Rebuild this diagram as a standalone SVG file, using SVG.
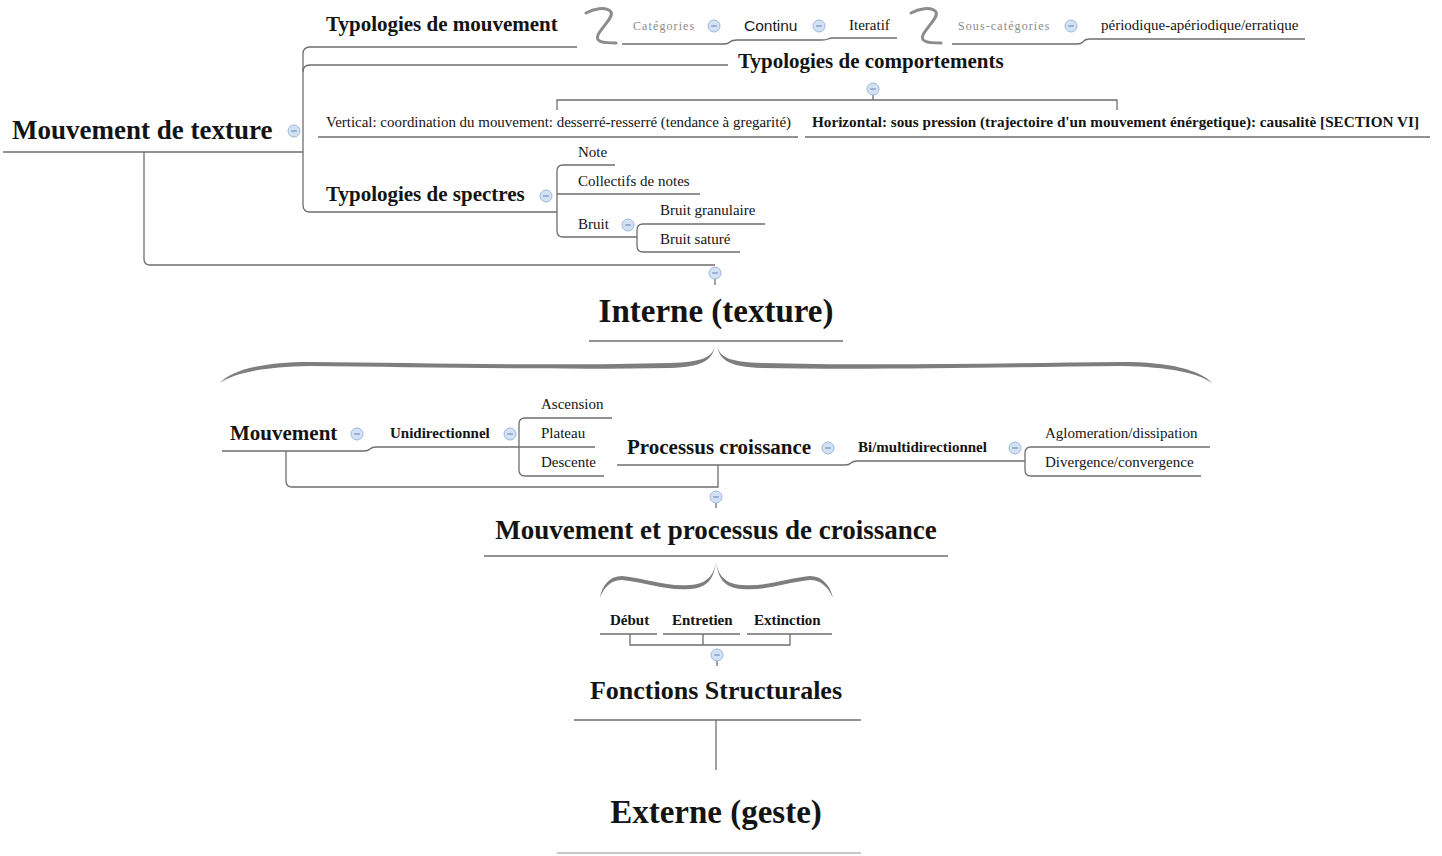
<svg xmlns="http://www.w3.org/2000/svg" width="1442" height="856" viewBox="0 0 1442 856">
<style>
.t{font-family:"Liberation Serif","Times New Roman",serif;fill:#141414}
.b{font-weight:bold}
.s{font-size:15px}
.m{font-size:21px}
.g{font-size:12px;fill:#8a8a8a;letter-spacing:1.1px}
.sans{font-family:"Liberation Sans",Arial,sans-serif;font-size:15.5px;fill:#1a1a1a}
.ln{stroke:#6e6e6e;stroke-width:1.3;fill:none}
.sq{stroke:#8c8c8c;stroke-width:3;fill:none;stroke-linecap:round}
.brace{fill:#7e7e7e}
</style>
<defs>
<g id="btn"><circle r="6" fill="#d3e1f4" stroke="#9db8dc" stroke-width="1"/><line x1="-2.8" y1="0" x2="2.8" y2="0" stroke="#5f7fae" stroke-width="1"/></g>
</defs>
<rect width="1442" height="856" fill="#ffffff"/>

<g id="connectors">
<!-- Mouvement de texture -->
<path class="ln" d="M3,152 H303"/>
<path class="ln" d="M310,47 Q303,47 303,54 V205 Q303,212 310,212"/>
<path class="ln" d="M303,72 Q303,65 310,65 H728"/>
<path class="ln" d="M144,152 V259 Q144,265 150,265 H715"/>
<path class="ln" d="M715,279 V285"/>
<!-- Typologies de mouvement chain -->
<path class="ln" d="M310,47 H577"/>
<path class="ln" d="M622,44 H724 Q728,44 730,42 Q732,40 737,40 H822 Q826,40 828,39 Q830,38 834,38 H897"/>
<path class="ln" d="M952,44 H1077 Q1081,44 1083,42 Q1085,39 1090,39 H1305"/>
<!-- comportements -->
<path class="ln" d="M873,95 V100"/>
<path class="ln" d="M557,110 V100 H1117 V110"/>
<path class="ln" d="M318,137 H798"/>
<path class="ln" d="M805,137 H1430"/>
<!-- spectres -->
<path class="ln" d="M310,212 H557"/>
<path class="ln" d="M615,165 H563 Q557,165 557,171 V231 Q557,237 563,237 H637"/>
<path class="ln" d="M557,194 H700"/>
<path class="ln" d="M765,224 H643 Q637,224 637,230 V246 Q637,252 643,252 H740"/>
<!-- Interne -->
<path class="ln" d="M589,341 H843"/>
<!-- Mouvement / Processus -->
<path class="ln" d="M222,451 H364 Q368,451 370,449 Q372,447 376,447 H595"/>
<path class="ln" d="M612,418 H525 Q519,418 519,424 V470 Q519,476 525,476 H604"/>
<path class="ln" d="M286,451 V481 Q286,487 292,487 H718 V465"/>
<path class="ln" d="M617,465 H845 Q849,465 851,463 Q853,461 857,461 H1025"/>
<path class="ln" d="M1210,447 H1031 Q1025,447 1025,453 V470 Q1025,476 1031,476 H1201"/>
<path class="ln" d="M716,503 V508"/>
<path class="ln" d="M484,556 H948"/>
<!-- Fonctions -->
<path class="ln" d="M600,634 H657 M663,634 H740 M747,634 H832"/>
<path class="ln" d="M630,634 V645 H790 V634 M703,634 V645"/>
<path class="ln" d="M717,661 V666"/>
<path class="ln" d="M574,720 H861"/>
<path class="ln" d="M716,720 V770"/>
<path class="ln" d="M557,853 H861" stroke-opacity="0.5"/>
</g>

<g id="squiggles">
<path class="sq" d="M586,13 C593,9 606,6 611,12 C614,17 601,28 598,35 C595,42 603,43 616,43"/>
<path class="sq" d="M911,13 C918,9 931,6 936,12 C939,17 926,28 923,35 C920,42 928,43 941,43"/>
</g>

<g id="braces">
<path class="brace" d="M715,345 C713,357 703,362 670,363 C560,366 420,363 310,362 C262,362 232,370 220,383 C234,373 262,367 310,366 C420,367 560,370 670,368 C703,367 713,360 715,345 Z"/>
<path class="brace" d="M717,345 C719,357 729,362 762,363 C872,366 1012,363 1122,362 C1170,362 1200,370 1212,383 C1198,373 1170,367 1122,366 C1012,367 872,370 762,368 C729,367 719,360 717,345 Z"/>
<path class="brace" d="M716,562 C714,574 708,584 690,585 C665,587 645,578 622,576 C610,576 602,585 600,598 C604,587 611,580 622,580 C645,582 665,591 690,589 C708,588 714,578 716,562 Z"/>
<path class="brace" d="M716,562 C718,574 724,584 742,585 C767,587 787,578 810,576 C822,576 830,585 833,598 C828,587 821,580 810,580 C787,582 767,591 742,589 C724,588 718,578 716,562 Z"/>
</g>

<g id="n-texture"><text class="t b" x="12" y="139" font-size="27">Mouvement de texture</text><use href="#btn" x="294" y="131"/></g>
<g id="n-typ-mouvement"><text class="t b m" x="326" y="31">Typologies de mouvement</text></g>
<g id="n-categories"><text class="t g" x="633" y="30">Catégories</text><use href="#btn" x="714" y="26"/></g>
<g id="n-continu"><text class="sans" x="744" y="31">Continu</text><use href="#btn" x="819" y="26"/></g>
<g id="n-iteratif"><text class="t s" x="849" y="30">Iteratif</text></g>
<g id="n-souscategories"><text class="t g" x="958" y="30">Sous-catégories</text><use href="#btn" x="1071" y="26"/></g>
<g id="n-periodique"><text class="t s" x="1101" y="30">périodique-apériodique/erratique</text></g>
<g id="n-typ-comportements"><text class="t b m" x="738" y="68">Typologies de comportements</text><use href="#btn" x="873" y="89"/></g>
<g id="n-vertical"><text class="t s" x="326" y="127" textLength="465" lengthAdjust="spacingAndGlyphs">Vertical: coordination du mouvement: desserré-resserré (tendance à gregarité)</text></g>
<g id="n-horizontal"><text class="t b s" x="812" y="127" textLength="607" lengthAdjust="spacingAndGlyphs">Horizontal: sous pression (trajectoire d'un mouvement énérgetique): causalitè [SECTION VI]</text></g>
<g id="n-typ-spectres"><text class="t b m" x="326" y="201">Typologies de spectres</text><use href="#btn" x="546" y="196"/></g>
<g id="n-note"><text class="t s" x="578" y="157">Note</text></g>
<g id="n-collectifs"><text class="t s" x="578" y="186">Collectifs de notes</text></g>
<g id="n-bruit"><text class="t s" x="578" y="229">Bruit</text><use href="#btn" x="628" y="225"/></g>
<g id="n-bruit-granulaire"><text class="t s" x="660" y="215">Bruit granulaire</text></g>
<g id="n-bruit-sature"><text class="t s" x="660" y="244">Bruit saturé</text></g>
<g id="n-btn-texture-child"><use href="#btn" x="715" y="273"/></g>
<g id="n-interne"><text class="t b" x="716" y="322" font-size="33" text-anchor="middle">Interne (texture)</text></g>
<g id="n-mouvement"><text class="t b m" x="230" y="440">Mouvement</text><use href="#btn" x="357" y="434"/></g>
<g id="n-unidirectionnel"><text class="t b s" x="390" y="438">Unidirectionnel</text><use href="#btn" x="510" y="434"/></g>
<g id="n-ascension"><text class="t s" x="541" y="409">Ascension</text></g>
<g id="n-plateau"><text class="t s" x="541" y="438">Plateau</text></g>
<g id="n-descente"><text class="t s" x="541" y="467">Descente</text></g>
<g id="n-processus"><text class="t b m" x="627" y="454">Processus croissance</text><use href="#btn" x="828" y="448"/></g>
<g id="n-bimulti"><text class="t b s" x="858" y="452">Bi/multidirectionnel</text><use href="#btn" x="1015" y="448"/></g>
<g id="n-aglomeration"><text class="t s" x="1045" y="438">Aglomeration/dissipation</text></g>
<g id="n-divergence"><text class="t s" x="1045" y="467">Divergence/convergence</text></g>
<g id="n-mpc"><use href="#btn" x="716" y="497"/><text class="t b" x="716" y="539" font-size="27" text-anchor="middle">Mouvement et processus de croissance</text></g>
<g id="n-debut"><text class="t b s" x="610" y="625">Début</text></g>
<g id="n-entretien"><text class="t b s" x="672" y="625">Entretien</text></g>
<g id="n-extinction"><text class="t b s" x="754" y="625">Extinction</text></g>
<g id="n-fonctions"><use href="#btn" x="717" y="655"/><text class="t b" x="716" y="699" font-size="26" text-anchor="middle">Fonctions Structurales</text></g>
<g id="n-externe"><text class="t b" x="716" y="823" font-size="33" text-anchor="middle">Externe (geste)</text></g>
</svg>
